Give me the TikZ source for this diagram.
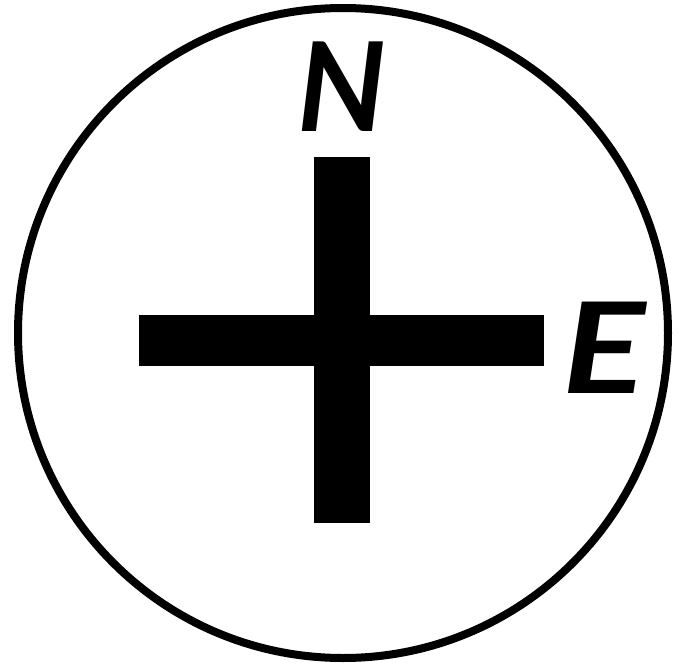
\documentclass[tikz,border=0pt]{standalone}
\usepackage{fontspec}
\newfontfamily\dirfont{Lato}
\usetikzlibrary{positioning}

\begin{document}
\begin{tikzpicture}[x=1pt,y=-1pt,
  ring/.style={draw,circle,line width=8pt,minimum size=650pt,inner sep=0pt},
  bar/.style={fill=black,draw=none,inner sep=0pt},
  dir/.style={inner sep=0pt,font={\dirfont\bfseries\itshape\fontsize{124}{124}\selectfont}}]
  \useasboundingbox (0,0) rectangle (681,664);
  \node[ring] (ring) at (343,333) {};
  \node[bar,minimum width=56pt,minimum height=366pt] (vbar) at (342,340) {};
  \node[bar,minimum width=405pt,minimum height=51pt] (hbar) at (341.5,340.5) {};
  \node[dir,above=25pt of vbar] (north) {N};
  \node[dir,right=18pt of hbar,yshift=-7pt,xscale=1.25,yscale=1.02] (east) {E};
\end{tikzpicture}
\end{document}
